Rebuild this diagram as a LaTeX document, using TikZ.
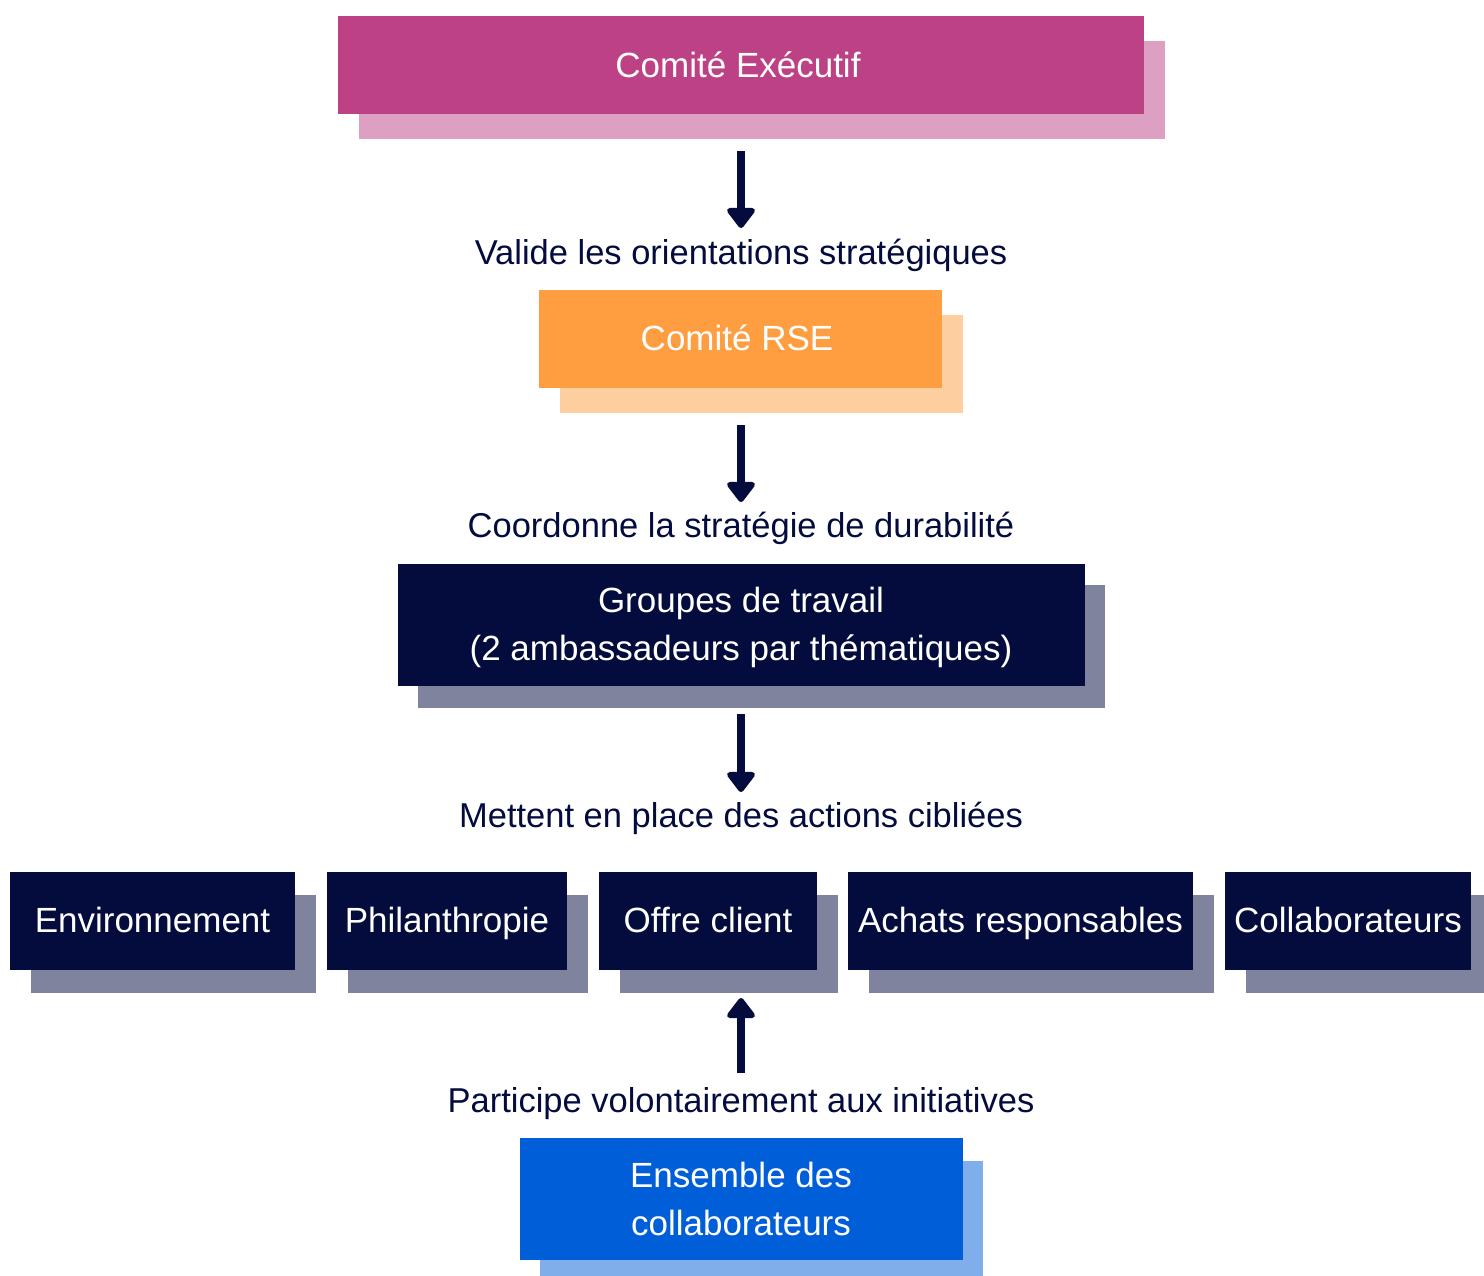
\documentclass[tikz,border=0pt]{standalone}
\usepackage{fontspec}
\setmainfont{Liberation Sans}
\usetikzlibrary{arrows.meta}
\definecolor{navy}{HTML}{040C3D}
\definecolor{navysh}{HTML}{80839E}
\definecolor{magenta}{HTML}{BD4285}
\definecolor{magentash}{HTML}{DEA0C2}
\definecolor{orangeb}{HTML}{FF9E40}
\definecolor{orangesh}{HTML}{FECF9E}
\definecolor{blueb}{HTML}{005ED8}
\definecolor{bluesh}{HTML}{80AEEA}
\begin{document}
\begin{tikzpicture}[x=1pt,y=-1pt,
  boxtxt/.style={font=\fontsize{35}{48}\selectfont, text=white, align=center, inner sep=0pt},
  onebox/.style={boxtxt, text height=25pt, text depth=0pt},
  lbl/.style={font=\fontsize{34.5}{40}\selectfont, text=navy, inner sep=0pt, text height=24.8pt, text depth=0pt},
  arr/.style={navy, line width=8pt, -{Triangle[width=32pt,length=22pt,round]}}]
\useasboundingbox (0,0) rectangle (1484,1276);
\begin{scope}
\clip (0,0) rectangle (1484,1276);
% Comite Executif
\fill[magentash] (359,41) rectangle (1165,139);
\fill[magenta] (338,16) rectangle (1144,114);
\node[onebox] (exec) at (738,65) {Comité Exécutif};
% Comite RSE
\fill[orangesh] (560,315) rectangle (963,413);
\fill[orangeb] (539,290) rectangle (942,388);
\node[onebox] (rse) at (737,338) {Comité RSE};
% Groupes
\fill[navysh] (418,585) rectangle (1105,708);
\fill[navy] (398,564) rectangle (1085,686);
\node[boxtxt] (grp) at (741,627) {Groupes de travail\\(2 ambassadeurs par thématiques)};
% row
\foreach \a/\b in {10/295,327/567,599/817,848/1193,1225/1471}{
  \fill[navysh] (\a+21,895) rectangle (\b+21,993);
  \fill[navy] (\a,872) rectangle (\b,970);
}
\node[onebox] (env) at (152.5,920) {Environnement};
\node[onebox] (phi) at (447,920) {Philanthropie};
\node[onebox] (off) at (708,920) {Offre client};
\node[onebox] (ach) at (1020.5,920) {Achats responsables};
\node[onebox] (col) at (1348,920) {Collaborateurs};
% Ensemble
\fill[bluesh] (540,1161) rectangle (983,1290);
\fill[blueb] (520,1138) rectangle (963,1260);
\node[boxtxt] (ens) at (741,1199) {Ensemble des\\collaborateurs};
\end{scope}
% labels
\node[lbl] (l1) at (741,252) {Valide les orientations stratégiques};
\node[lbl] (l2) at (741,525) {Coordonne la stratégie de durabilité};
\node[lbl] (l3) at (741,815) {Mettent en place des actions cibliées};
\node[lbl] (l4) at (741,1100) {Participe volontairement aux initiatives};
% arrow coordinates
\coordinate (a1s) at (741,151); \coordinate (a1e) at (741,228);
\coordinate (a2s) at (741,425); \coordinate (a2e) at (741,502);
\coordinate (a3s) at (741,714); \coordinate (a3e) at (741,792);
\coordinate (a4s) at (741,1073); \coordinate (a4e) at (741,998);
\draw[arr] (a1s) -- (a1e);
\draw[arr] (a2s) -- (a2e);
\draw[arr] (a3s) -- (a3e);
\draw[arr] (a4s) -- (a4e);
\end{tikzpicture}
\end{document}
